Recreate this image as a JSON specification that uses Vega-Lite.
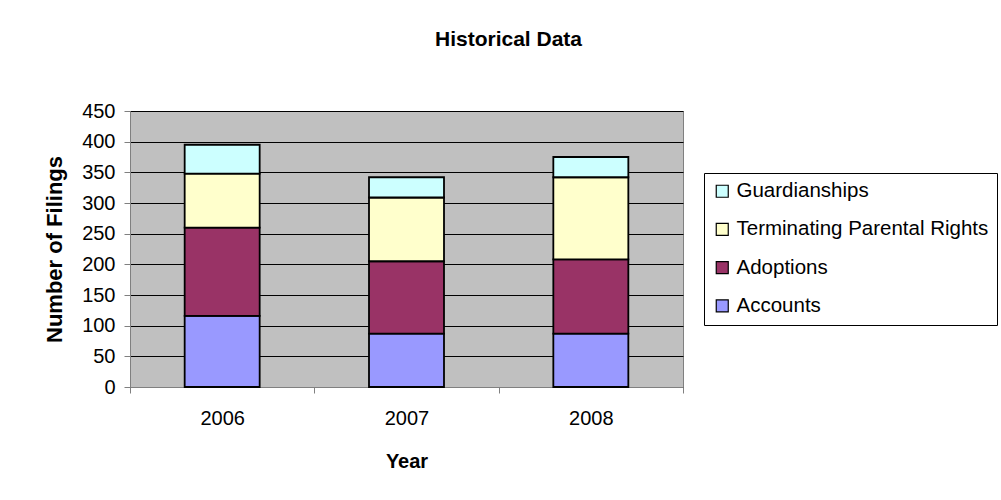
{
  "$schema": "https://vega.github.io/schema/vega-lite/v6.json",
  "width": 553,
  "height": 276,
  "autosize": {"type": "none"},
  "padding": {"left": 130, "top": 111, "right": 318, "bottom": 113},
  "background": "white",
  "title": {
    "text": "Historical Data",
    "font": "Liberation Sans",
    "fontSize": 21,
    "fontWeight": "bold",
    "color": "black",
    "anchor": "middle",
    "dx": 102,
    "offset": 51
  },
  "data": {
    "values": [
      {"Year": "2006", "Category": "Accounts", "seq": 1, "Filings": 116},
      {"Year": "2006", "Category": "Adoptions", "seq": 2, "Filings": 144},
      {"Year": "2006", "Category": "Terminating Parental Rights", "seq": 3, "Filings": 88},
      {"Year": "2006", "Category": "Guardianships", "seq": 4, "Filings": 47},
      {"Year": "2007", "Category": "Accounts", "seq": 1, "Filings": 87},
      {"Year": "2007", "Category": "Adoptions", "seq": 2, "Filings": 118},
      {"Year": "2007", "Category": "Terminating Parental Rights", "seq": 3, "Filings": 104},
      {"Year": "2007", "Category": "Guardianships", "seq": 4, "Filings": 33},
      {"Year": "2008", "Category": "Accounts", "seq": 1, "Filings": 87},
      {"Year": "2008", "Category": "Adoptions", "seq": 2, "Filings": 121},
      {"Year": "2008", "Category": "Terminating Parental Rights", "seq": 3, "Filings": 134},
      {"Year": "2008", "Category": "Guardianships", "seq": 4, "Filings": 33}
    ]
  },
  "mark": {"type": "bar", "width": 75, "stroke": "black", "strokeWidth": 1.8, "strokeJoin": "miter"},
  "encoding": {
    "x": {
      "field": "Year",
      "type": "nominal",
      "scale": {"paddingInner": 0, "paddingOuter": 0},
      "axis": {
        "title": "Year",
        "labelAngle": 0,
        "tickBand": "extent",
        "labelPadding": 15,
        "titlePadding": 23
      }
    },
    "y": {
      "field": "Filings",
      "type": "quantitative",
      "stack": "zero",
      "scale": {"domain": [0, 450], "nice": false},
      "axis": {
        "title": "Number of Filings",
        "titleFontSize": 22,
        "values": [0, 50, 100, 150, 200, 250, 300, 350, 400, 450],
        "labelPadding": 9,
        "titlePadding": 15
      }
    },
    "color": {
      "field": "Category",
      "type": "nominal",
      "scale": {
        "domain": ["Guardianships", "Terminating Parental Rights", "Adoptions", "Accounts"],
        "range": ["#CCFFFF", "#FFFFCC", "#993366", "#9999FF"]
      },
      "legend": {
        "title": null,
        "orient": "none",
        "legendX": 574,
        "legendY": 62,
        "symbolType": "square",
        "symbolSize": 144,
        "symbolStrokeColor": "black",
        "symbolStrokeWidth": 1.2,
        "symbolOpacity": 1,
        "labelFont": "Liberation Sans",
        "labelFontSize": 20.5,
        "labelColor": "black",
        "labelLimit": 400,
        "labelOffset": 4,
        "rowPadding": 17.2,
        "strokeColor": "black",
        "fillColor": "white",
        "padding": 8
      }
    },
    "order": {"field": "seq", "type": "quantitative"}
  },
  "config": {
    "view": {"fill": "#C0C0C0", "stroke": "#808080", "strokeWidth": 1},
    "font": "Liberation Sans",
    "axis": {
      "labelFont": "Liberation Sans",
      "labelFontSize": 20,
      "labelColor": "black",
      "titleFont": "Liberation Sans",
      "titleFontSize": 20,
      "titleFontWeight": "bold",
      "titleColor": "black",
      "domainColor": "#808080",
      "tickColor": "#808080",
      "tickSize": 6,
      "gridColor": "black",
      "gridOpacity": 1,
      "gridWidth": 1
    },
    "axisX": {"grid": false},
    "axisY": {"grid": true}
  }
}
